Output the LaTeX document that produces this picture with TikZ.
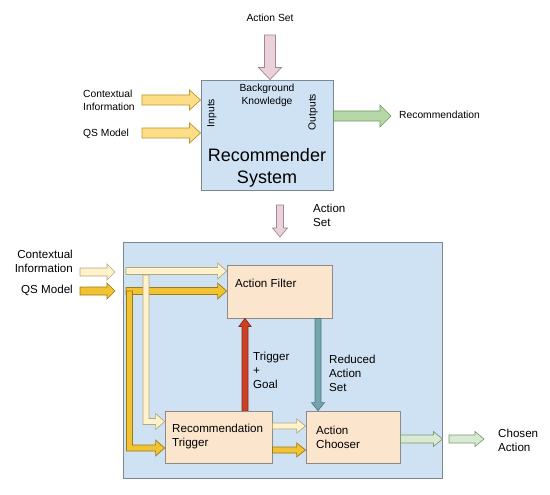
\documentclass[tikz,border=0pt]{standalone}
\usepackage{fontspec}
\setmainfont{Liberation Sans}
\usetikzlibrary{calc}
\definecolor{bluebg}{HTML}{CFE2F3}
\definecolor{blueln}{HTML}{7D8790}
\definecolor{boxfill}{HTML}{FCE5CD}
\definecolor{boxln}{HTML}{8F8A85}
\definecolor{creamf}{HTML}{FFF2CC}
\definecolor{creaml}{HTML}{B5A77A}
\definecolor{goldf}{HTML}{F1C232}
\definecolor{goldl}{HTML}{9C7B16}
\definecolor{yelf}{HTML}{FDDE86}
\definecolor{yell}{HTML}{B8962E}
\definecolor{pinkf}{HTML}{EAD1DC}
\definecolor{pinkl}{HTML}{9E8891}
\definecolor{greenf}{HTML}{B6D7A8}
\definecolor{greenl}{HTML}{6E9A5E}
\definecolor{lgreenf}{HTML}{D9EAD3}
\definecolor{lgreenl}{HTML}{7A9A70}
\definecolor{redf}{HTML}{CC4125}
\definecolor{redl}{HTML}{8B2A18}
\definecolor{tealf}{HTML}{76A5AF}
\definecolor{teall}{HTML}{4A7A85}
\tikzset{
  bw/.store in=\bw, hw/.store in=\hw, hl/.store in=\hl,
  bw=4pt, hw=8pt, hl=8pt,
  barrow/.style={to path={let \p1=(\tikztostart), \p2=(\tikztotarget),
     \n1={atan2(\y2-\y1,\x2-\x1)} in
     ($(\p1)+(\n1+90:\bw)$) -- ($(\p2)+(\n1+180:\hl)+(\n1+90:\bw)$)
     -- ($(\p2)+(\n1+180:\hl)+(\n1+90:\hw)$) -- (\p2)
     -- ($(\p2)+(\n1+180:\hl)+(\n1-90:\hw)$) -- ($(\p2)+(\n1+180:\hl)+(\n1-90:\bw)$)
     -- ($(\p1)+(\n1-90:\bw)$) -- cycle}},
  belbow/.style={to path={let \p1=(\tikztostart), \p2=(\tikztotarget) in
     (\x1-\bw,\y1) -- (\x1-\bw,\y2-\bw) -- (\x2-\hl,\y2-\bw) -- (\x2-\hl,\y2-\hw)
     -- (\p2) -- (\x2-\hl,\y2+\hw) -- (\x2-\hl,\y2+\bw) -- (\x1+\bw,\y2+\bw)
     -- (\x1+\bw,\y1) -- cycle}},
  smalltxt/.style={inner sep=0pt, font=\fontsize{10.3}{13}\selectfont, align=left},
  midtxt/.style={inner sep=0pt, font=\fontsize{11.6}{14}\selectfont, align=left},
  bigtxt/.style={inner sep=0pt, font=\fontsize{18}{22}\selectfont, align=center},
  bluebox/.style={draw=blueln, fill=bluebg, line width=0.9pt, minimum width=#1},
  stagebox/.style={draw=boxln, fill=boxfill, line width=0.8pt},
  yelarr/.style={draw=yell, fill=yelf, line width=0.7pt, bw=5pt, hw=10pt, hl=11pt},
  pinkarr/.style={draw=pinkl, fill=pinkf, line width=0.7pt},
  creamarr/.style={draw=creaml, fill=creamf, line width=0.7pt, bw=3.5pt, hw=8pt, hl=9pt},
  goldarr/.style={draw=goldl, fill=goldf, line width=0.7pt, bw=3.5pt, hw=8pt, hl=9pt},
  greenarr/.style={draw=greenl, fill=greenf, line width=0.7pt, bw=5pt, hw=11pt, hl=11pt},
  lgreenarr/.style={draw=lgreenl, fill=lgreenf, line width=0.7pt, bw=4pt, hw=7.5pt, hl=9pt},
}
\begin{document}
\begin{tikzpicture}[x=1pt, y=-1pt]
\useasboundingbox (0,0) rectangle (550,495);

% ---------- top part ----------
\node[bluebox=132pt, minimum height=110pt] (rs) at (267,135) {};
\node[smalltxt] (as1) at (270,18) {Action Set};
\node[smalltxt, anchor=west] (ctx1) at (83,100) {Contextual\\Information};
\node[smalltxt, anchor=west] (qs1) at (83,134) {QS Model};
\node[smalltxt, align=center] (bk) at (267,95) {Background\\Knowledge};
\node[smalltxt, rotate=90] (inp) at (212,113) {Inputs};
\node[smalltxt, rotate=90] (outp) at (313,112) {Outputs};
\node[bigtxt] (rst) at (267,168) {Recommender\\System};
\node[smalltxt, anchor=west] (rec) at (399,115) {Recommendation};

\coordinate (as1s) at (270,35);
\coordinate (ctx1a) at (142,100);
\coordinate (qs1a) at (142,133);
\coordinate (reca) at (391,116);

\draw[pinkarr, bw=5.5pt, hw=11.5pt, hl=12pt] (as1s) to[barrow] (as1s |- rs.north);
\draw[yelarr] (ctx1a) to[barrow] (ctx1a -| rs.west);
\draw[yelarr] (qs1a) to[barrow] (qs1a -| rs.west);
\draw[greenarr] (rs.east |- reca) to[barrow] (reca);

% ---------- middle ----------
\node[midtxt, anchor=west] (as2) at (313,215) {Action\\Set};
\coordinate (as2s) at (280,205);
\coordinate (as2e) at (280,237);
\draw[pinkarr, bw=3.5pt, hw=7.5pt, hl=9pt] (as2s) to[barrow] (as2e);

% ---------- bottom part ----------
\node[bluebox=319pt, minimum height=236pt] (big) at (282.5,360) {};
\node[stagebox, minimum width=105pt, minimum height=53pt] (af) at (279.5,291.5) {};
\node[stagebox, minimum width=107pt, minimum height=52pt] (rt) at (218.5,437) {};
\node[stagebox, minimum width=94pt, minimum height=52pt] (ac) at (353,437) {};

\node[midtxt, anchor=west] (aft) at (235,283) {Action Filter};
\node[midtxt, anchor=west] (rtt) at (172,436) {Recommendation\\Trigger};
\node[midtxt, anchor=west] (act) at (316,437) {Action\\Chooser};

\node[midtxt, anchor=east, align=right] (ctx2) at (73,261) {Contextual\\Information};
\node[midtxt, anchor=east] (qs2) at (73,290) {QS Model};
\node[midtxt, anchor=west] (tg) at (253,370) {Trigger\\+\\Goal};
\node[midtxt, anchor=west] (ras) at (329,373) {Reduced\\Action\\Set};
\node[midtxt, anchor=west] (ca) at (498,440) {Chosen\\Action};

% outside inputs
\coordinate (ctx2a) at (80,272);
\coordinate (ctx2b) at (115,272);
\coordinate (qs2a) at (80,291);
\coordinate (qs2b) at (115,291);
\draw[creamarr, bw=4pt, hw=8pt, hl=8pt] (ctx2a) to[barrow] (ctx2b);
\draw[goldarr, bw=4pt, hw=8pt, hl=8pt] (qs2a) to[barrow] (qs2b);

% inside: to action filter
\coordinate (ci) at (126,271);
\coordinate (gi) at (126,291);
\draw[creamarr] (ci) to[barrow] (ci -| af.west);
\draw[goldarr] (gi) to[barrow] (gi -| af.west);

% elbows down to trigger
\coordinate (cv) at (129.5,291);
\coordinate (gv) at (146,275);
\draw[goldarr, bw=3pt] (cv) to[belbow] (rt.west |- 0,448);
\draw[creamarr, bw=3pt] (gv) to[belbow] (rt.west |- 0,421.5);

% trigger -> chooser
\draw[creamarr, bw=3pt, hw=7pt] (rt.east |- 0,426) to[barrow] (ac.west |- 0,426);
\draw[goldarr, bw=3pt, hw=7pt] (rt.east |- 0,450) to[barrow] (ac.west |- 0,450);

% trigger -> filter (red), filter -> chooser (teal)
\draw[draw=redl, fill=redf, line width=0.7pt, bw=3pt, hw=6pt, hl=8pt]
  (rt.north -| 245,0) to[barrow] (af.south -| 245,0);
\draw[draw=teall, fill=tealf, line width=0.7pt, bw=3pt, hw=6.5pt, hl=8pt]
  (af.south -| 318,0) to[barrow] (ac.north -| 318,0);

% output
\coordinate (co) at (449,439);
\coordinate (coe) at (484,439);
\draw[lgreenarr] (ac.east |- co) to[barrow] (big.east |- co);
\draw[lgreenarr] (co) to[barrow] (coe);
\end{tikzpicture}
\end{document}
